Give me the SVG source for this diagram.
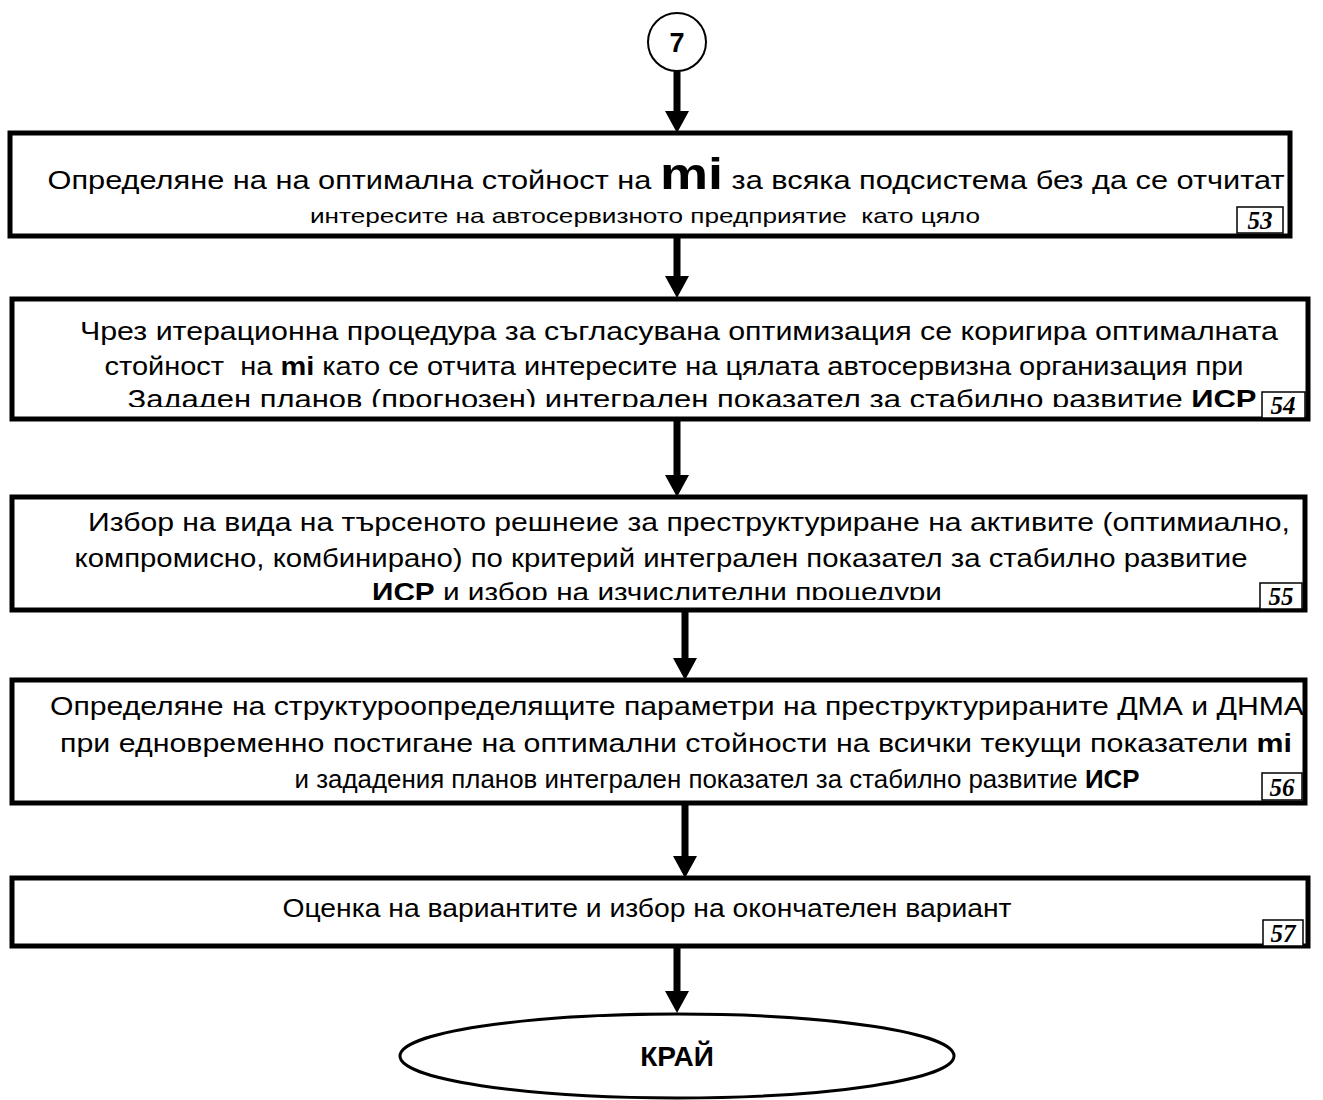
<svg xmlns="http://www.w3.org/2000/svg" width="1323" height="1100" viewBox="0 0 1323 1100">
  <style>
    .box { fill: #fff; stroke: #000; stroke-width: 5; }
    .tag { fill: #fff; stroke: #000; stroke-width: 1.5; }
    .tagt { font-family: "Liberation Serif", serif; font-style: italic; font-weight: bold; font-size: 25px; text-anchor: middle; }
    .t { font-family: "Liberation Sans", Arial, sans-serif; font-size: 25px; fill: #000; text-anchor: middle; white-space: pre; }
    .s { font-family: "Liberation Sans", Arial, sans-serif; font-size: 21px; fill: #000; text-anchor: middle; white-space: pre; }
    .b { font-weight: bold; }
    .arrow { fill: #000; }
  </style>
  <defs>
    <clipPath id="clip54"><rect x="0" y="290" width="1323" height="117"/></clipPath>
    <clipPath id="clip55"><rect x="0" y="490" width="1323" height="110"/></clipPath>
  </defs>

  <!-- connectors: shaft plus triangular head -->
  <g id="connectors">
    <path class="arrow" d="M673.5,64 h7 v47 h8.5 l-12,22 l-12,-22 h8.5 z"/>
    <path class="arrow" d="M673.5,236 h7 v40 h8.5 l-12,22 l-12,-22 h8.5 z"/>
    <path class="arrow" d="M673.5,420 h7 v55 h8.5 l-12,22 l-12,-22 h8.5 z"/>
    <path class="arrow" d="M681.5,610 h7 v48 h8.5 l-12,22 l-12,-22 h8.5 z"/>
    <path class="arrow" d="M681.5,803 h7 v53 h8.5 l-12,22 l-12,-22 h8.5 z"/>
    <path class="arrow" d="M673.5,946 h7 v45 h8.5 l-12,22 l-12,-22 h8.5 z"/>
  </g>

  <!-- connector point 7 -->
  <g id="node-7">
    <circle cx="677" cy="42" r="29" fill="#fff" stroke="#000" stroke-width="2"/>
    <text x="677" y="52" font-family="Liberation Sans, Arial, sans-serif" font-weight="bold" font-size="27" text-anchor="middle">7</text>
  </g>

  <g id="node-53">
    <rect class="box" x="10" y="133" width="1280" height="103"/>
    <text class="t" x="666" y="189" textLength="1237" lengthAdjust="spacingAndGlyphs">Определяне на на оптимална стойност на <tspan class="b" font-size="44">mi</tspan> за всяка подсистема без да се отчитат</text>
    <text class="s" x="645" y="223" textLength="670" lengthAdjust="spacingAndGlyphs">интересите на автосервизното предприятие  като цяло</text>
    <rect class="tag" x="1237" y="207" width="46" height="26"/>
    <text class="tagt" x="1260" y="229">53</text>
  </g>

  <g id="node-54">
    <rect class="box" x="12" y="299" width="1296" height="120"/>
    <g clip-path="url(#clip54)">
      <text class="t" x="679" y="340" textLength="1198" lengthAdjust="spacingAndGlyphs">Чрез итерационна процедура за съгласувана оптимизация се коригира оптималната</text>
      <text class="t" x="674" y="375" textLength="1139" lengthAdjust="spacingAndGlyphs">стойност  на <tspan class="b">mi</tspan> като се отчита интересите на цялата автосервизна организация при</text>
      <text class="t" x="692" y="408" textLength="1129" lengthAdjust="spacingAndGlyphs">Зададен планов (прогнозен) интегрален показател за стабилно развитие <tspan class="b">ИСР</tspan></text>
    </g>
    <rect class="tag" x="1262" y="392" width="43" height="26"/>
    <text class="tagt" x="1283" y="414">54</text>
  </g>

  <g id="node-55">
    <rect class="box" x="12" y="497" width="1293" height="113"/>
    <g clip-path="url(#clip55)">
      <text class="t" x="689" y="531" textLength="1202" lengthAdjust="spacingAndGlyphs">Избор на вида на търсеното решнеие за преструктуриране на активите (оптимиално,</text>
      <text class="t" x="661" y="567" textLength="1173" lengthAdjust="spacingAndGlyphs">компромисно, комбинирано) по критерий интегрален показател за стабилно развитие</text>
      <text class="t" x="657" y="601" textLength="570" lengthAdjust="spacingAndGlyphs"><tspan class="b">ИСР</tspan> и избор на изчислителни процедури</text>
    </g>
    <rect class="tag" x="1260" y="583" width="42" height="26"/>
    <text class="tagt" x="1281" y="605">55</text>
  </g>

  <g id="node-56">
    <rect class="box" x="12" y="680" width="1293" height="123"/>
    <text class="t" x="677" y="715" textLength="1254" lengthAdjust="spacingAndGlyphs">Определяне на структуроопределящите параметри на преструктурираните ДМА и ДНМА</text>
    <text class="t" x="676" y="752" textLength="1232" lengthAdjust="spacingAndGlyphs">при едновременно постигане на оптимални стойности на всички текущи показатели <tspan class="b">mi</tspan></text>
    <text class="t" x="717" y="788" textLength="845" lengthAdjust="spacingAndGlyphs">и зададения планов интегрален показател за стабилно развитие <tspan class="b">ИСР</tspan></text>
    <rect class="tag" x="1262" y="773" width="40" height="27"/>
    <text class="tagt" x="1282" y="796">56</text>
  </g>

  <g id="node-57">
    <rect class="box" x="12" y="878" width="1296" height="68"/>
    <text class="t" x="647" y="917" textLength="729" lengthAdjust="spacingAndGlyphs">Оценка на вариантите и избор на окончателен вариант</text>
    <rect class="tag" x="1263" y="920" width="40" height="26"/>
    <text class="tagt" x="1283" y="942">57</text>
  </g>

  <g id="node-end">
    <ellipse cx="677" cy="1056" rx="277" ry="42" fill="#fff" stroke="#000" stroke-width="3"/>
    <text x="677" y="1066" font-family="Liberation Sans, Arial, sans-serif" font-weight="bold" font-size="28" text-anchor="middle">КРАЙ</text>
  </g>
</svg>
